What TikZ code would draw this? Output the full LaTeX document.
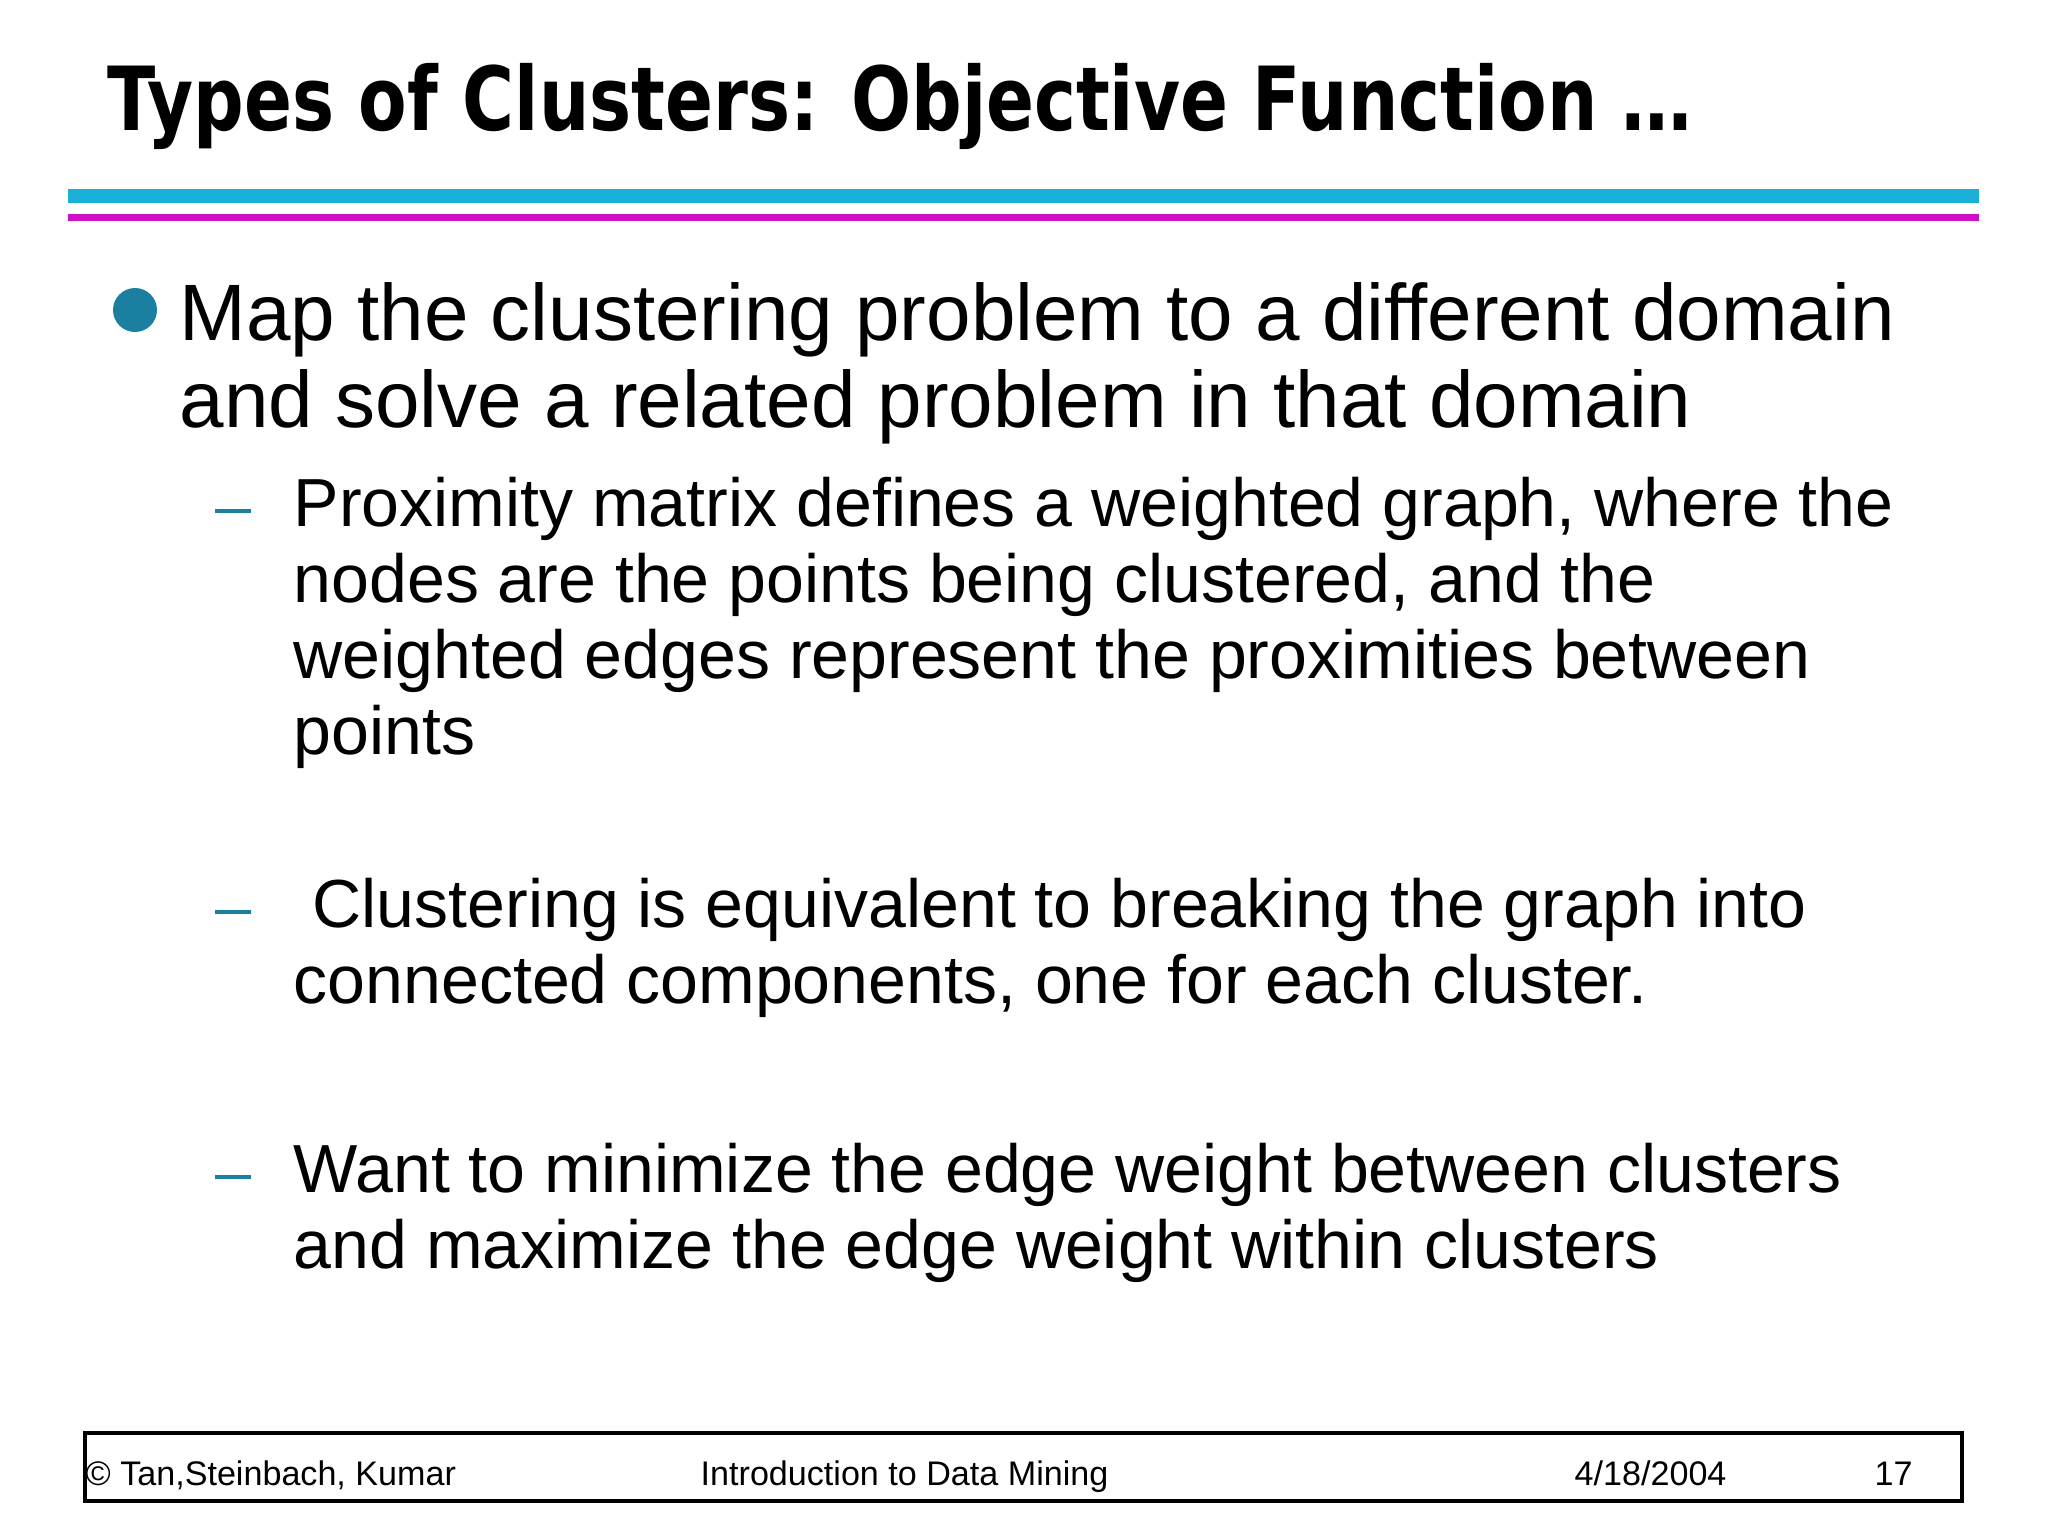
\documentclass[tikz,border=0pt]{standalone}
\usepackage{fontspec}
\setmainfont{Liberation Sans}
\newfontfamily\titlefont{DejaVu Sans}
\definecolor{bul}{HTML}{1A7FA0}
\definecolor{cyanl}{HTML}{1BB0D8}
\definecolor{magl}{HTML}{D010C8}
\begin{document}
\begin{tikzpicture}[x=0.01cm,y=-0.01cm,
  txt/.style={anchor=base west,inner sep=0pt},
  main/.style={txt,font=\fontsize{22.75}{22.75}\selectfont},
  sub/.style={txt,font=\fontsize{19.35}{19.35}\selectfont},
  foot/.style={txt,font=\fontsize{9.7}{9.7}\selectfont}]
\useasboundingbox (0,0) rectangle (2048,1536);
\node[txt,font=\titlefont\bfseries\fontsize{25}{25}\selectfont] (title) at (107,130) {\resizebox{15.84cm}{!}{\scalebox{0.8}[1]{Types of Clusters: Objective Function …}}};
\fill[cyanl] (68,189) rectangle (1979,203);
\fill[magl] (68,214) rectangle (1979,221);
\fill[bul] (135,310) circle (22);
\node[main] (m1) at (179,340) {Map the clustering problem to a different domain};
\node[main] (m2) at (179,427) {and solve a related problem in that domain};
\foreach \y in {526,927,1192} \fill[bul] (215,\y-17) rectangle (251,\y-13);
\node[sub] (a1) at (293,526) {Proximity matrix defines a weighted graph, where the};
\node[sub] (a2) at (293,602) {nodes are the points being clustered, and the};
\node[sub] (a3) at (293,678) {weighted edges represent the proximities between};
\node[sub] (a4) at (293,754) {points};
\node[sub] (b1) at (293,927) {\ Clustering is equivalent to breaking the graph into};
\node[sub] (b2) at (293,1003) {connected components, one for each cluster.};
\node[sub] (c1) at (293,1192) {Want to minimize the edge weight between clusters};
\node[sub] (c2) at (293,1268) {and maximize the edge weight within clusters};
\draw[line width=1.2pt] (85,1433) rectangle (1962,1501);
\node[foot] (f1) at (85,1485) {© Tan,Steinbach, Kumar};
\node[foot] (f2) at (700,1485) {Introduction to Data Mining};
\node[foot] (f3) at (1574,1485) {4/18/2004};
\node[foot] (f4) at (1874,1485) {17};
\end{tikzpicture}
\end{document}
